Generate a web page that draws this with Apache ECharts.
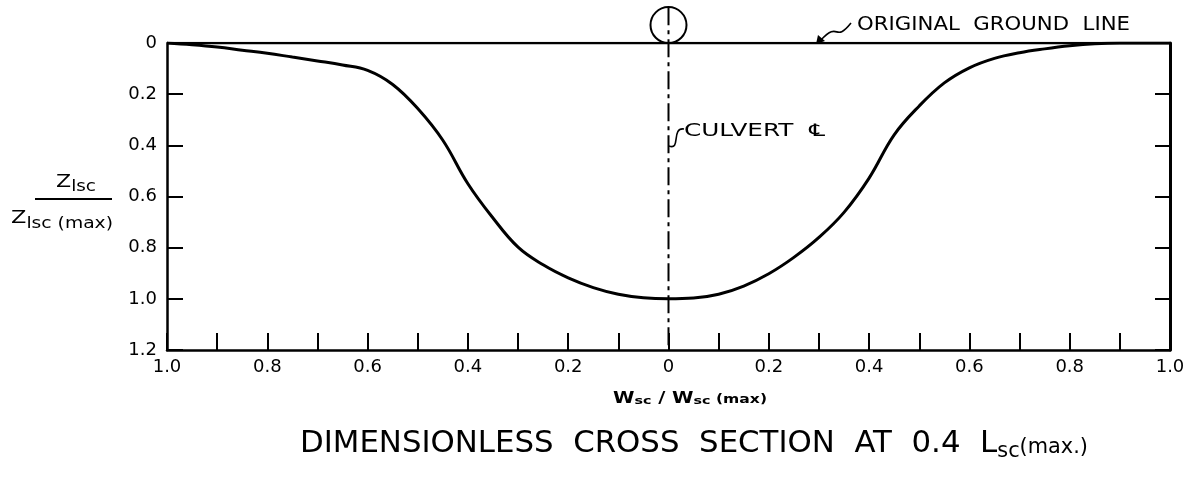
<!DOCTYPE html>
<html><head><meta charset="utf-8">
<script src="https://cdn.jsdelivr.net/npm/echarts@6/dist/echarts.min.js"></script>
<style>html,body{margin:0;padding:0;background:#fff}#c{width:1196px;height:479px}</style>
</head><body><div id="c"></div>
<script>
// ---- data ----
const profileX = [-1.00,-0.95,-0.90,-0.85,-0.80,-0.75,-0.70,-0.65,-0.60,-0.55,-0.50,-0.45,-0.40,-0.35,-0.30,-0.25,-0.20,-0.15,-0.10,-0.05,0,
  0.05,0.10,0.15,0.20,0.25,0.30,0.35,0.40,0.45,0.50,0.55,0.60,0.65,0.70,0.75,0.80,0.85,0.90,0.95,1.00];
const profileDepth = [0.000,0.007,0.016,0.028,0.040,0.055,0.070,0.086,0.107,0.162,0.256,0.380,0.550,0.684,0.798,0.867,0.918,0.956,0.982,0.996,1.000,
  0.997,0.982,0.950,0.902,0.838,0.760,0.662,0.528,0.359,0.246,0.156,0.097,0.060,0.038,0.023,0.011,0.003,0.000,0.000,0.000];
const groundX = [-1, 1];
const groundDepth = [0, 0];
const centerX = [0, 0];
const centerDepth = [-0.14, 1.2];
const xTickLabels = ['1.0','0.8','0.6','0.4','0.2','0','0.2','0.4','0.6','0.8','1.0'];
const yTickLabels = ['0','0.2','0.4','0.6','0.8','1.0','1.2'];

const FONT = 'DejaVu Sans';
const ctx = document.createElement('canvas').getContext('2d');
function runText(tokens, x, yMid, targetWidth, family) {
  family = family || FONT;
  const widths = tokens.map(k => { ctx.font = (k.weight || 'normal') + ' ' + k.size + 'px "' + family + '"'; return ctx.measureText(k.t).width; });
  const total = widths.reduce((a, b) => a + b, 0);
  const s = targetWidth ? targetWidth / total : 1;
  let cx = x; const els = [];
  tokens.forEach((k, i) => {
    els.push({ type: 'text', x: cx, y: yMid + (k.dy || 0), scaleX: s, silent: true,
      style: { text: k.t, fontSize: k.size, fontFamily: family, fontWeight: k.weight || 'normal', fill: '#000',
        align: 'left', verticalAlign: 'middle', textAlign: 'left', textVerticalAlign: 'middle' } });
    cx += widths[i] * s;
  });
  return els;
}

const chart = echarts.init(document.getElementById('c'), null, { renderer: 'canvas' });
const black = '#000';
const graphics = [].concat(
  // y-axis name: Zlsc / Zlsc (max)
  runText([{ t: 'Z', size: 18 }, { t: 'lsc', size: 15, dy: 5 }], 56, 182, 40),
  [{ type: 'line', silent: true, shape: { x1: 35, y1: 199, x2: 112, y2: 199 }, style: { stroke: black, lineWidth: 2 } }],
  runText([{ t: 'Z', size: 18 }, { t: 'lsc (max)', size: 15, dy: 6 }], 11, 218, 102),
  // x-axis name
  runText([{ t: 'W', size: 15, weight: 'bold' }, { t: 'sc', size: 11, weight: 'bold', dy: 2 }, { t: ' / ', size: 15, weight: 'bold' },
    { t: 'W', size: 15, weight: 'bold' }, { t: 'sc', size: 11, weight: 'bold', dy: 2 }, { t: ' (max)', size: 12, weight: 'bold', dy: 1 }], 613, 399, 154),
  // title
  runText([{ t: 'DIMENSIONLESS  CROSS  SECTION  AT  0.4  L', size: 31 }, { t: 'sc', size: 21, dy: 8 }, { t: '(max.)', size: 21, dy: 4 }], 300, 444, 788),
  // ground line label
  runText([{ t: 'ORIGINAL  GROUND  LINE', size: 19 }], 857, 25, 273),
  // culvert label
  runText([{ t: 'CULVERT  \u2104', size: 17 }], 684, 132, 141),
  [
    { type: 'bezierCurve', silent: true, shape: { x1: 669, y1: 146, cpx1: 681, cpy1: 151, cpx2: 671, cpy2: 127, x2: 684, y2: 129 },
      style: { stroke: black, fill: null, lineWidth: 1.6 } },
    { type: 'bezierCurve', silent: true, shape: { x1: 821, y1: 40, cpx1: 840, cpy1: 20, cpx2: 834, cpy2: 44, x2: 851, y2: 23 },
      style: { stroke: black, fill: null, lineWidth: 1.6 } },
    { type: 'polygon', silent: true, shape: { points: [[816, 44], [818, 35], [825, 41]] }, style: { fill: black } }
  ]
);

chart.setOption({
  animation: false,
  backgroundColor: '#fff',
  grid: { left: 167, right: 26, top: 43, bottom: 129, containLabel: false },
  xAxis: [{
    type: 'value', position: 'bottom', min: -1, max: 1, interval: 0.1,
    axisLine: { show: true, onZero: false, lineStyle: { color: black, width: 2.5 } },
    axisTick: { show: true, inside: true, length: 17, lineStyle: { color: black, width: 2 } },
    splitLine: { show: false },
    axisLabel: {
      color: black, fontSize: 18, fontFamily: FONT, margin: 8, showMinLabel: true, showMaxLabel: true, hideOverlap: false,
      formatter: v => { const k = Math.round(v * 10); return (k % 2 !== 0) ? '' : xTickLabels[(k + 10) / 2]; }
    }
  }],
  yAxis: [{
    type: 'value', position: 'left', inverse: true, min: 0, max: 1.2, interval: 0.2,
    axisLine: { show: true, onZero: false, lineStyle: { color: black, width: 2.5 } },
    axisTick: { show: true, inside: true, length: 16, lineStyle: { color: black, width: 2 } },
    splitLine: { show: false },
    axisLabel: { color: black, fontSize: 18, fontFamily: FONT, margin: 10, showMinLabel: true, showMaxLabel: true,
      formatter: v => yTickLabels[Math.round(v * 5)] }
  }, {
    type: 'value', position: 'right', inverse: true, min: 0, max: 1.2, interval: 0.2,
    axisLine: { show: true, onZero: false, lineStyle: { color: black, width: 3 } },
    axisTick: { show: true, inside: true, length: 15, lineStyle: { color: black, width: 2 } },
    axisLabel: { show: false }, splitLine: { show: false }
  }],
  series: [
    { type: 'line', name: 'profile', data: profileX.map((x, i) => [x, profileDepth[i]]), smooth: 0.4,
      symbol: 'none', lineStyle: { color: black, width: 3 }, z: 5 },
    { type: 'line', name: 'ground', data: groundX.map((x, i) => [x, groundDepth[i]]), symbol: 'none', lineStyle: { color: black, width: 2.5 }, z: 4 },
    { type: 'line', name: 'centerline', data: centerX.map((x, i) => [x, centerDepth[i]]), symbol: 'none', clip: false,
      lineStyle: { color: black, width: 2, type: [18, 5, 4, 5] }, z: 3 },
    { type: 'scatter', name: 'circle', data: [[0, -0.07]], symbol: 'circle', symbolSize: 36, clip: false,
      itemStyle: { color: 'rgba(0,0,0,0)', borderColor: black, borderWidth: 2, opacity: 1 }, z: 3 }
  ],
  graphic: graphics
});
</script></body></html>
